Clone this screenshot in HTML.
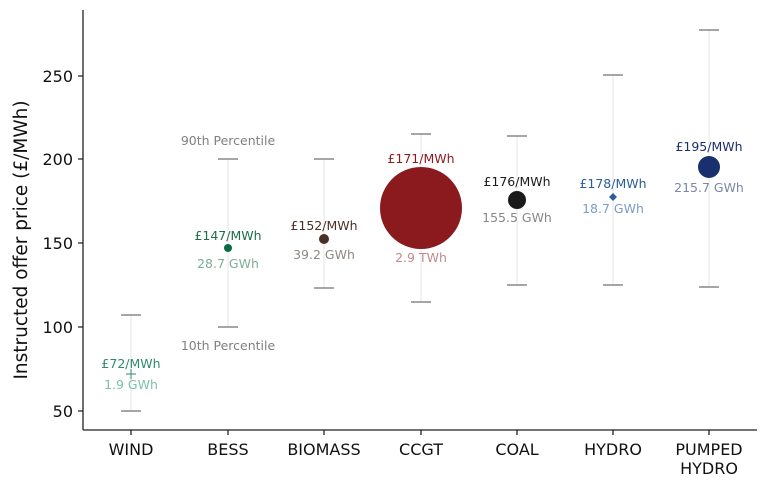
<!DOCTYPE html><html><head><style>body{margin:0;background:#fff}</style></head><body>
<svg width="768" height="489" xmlns="http://www.w3.org/2000/svg" font-family="DejaVu Sans, sans-serif">
<g stroke="#e6e6e6" stroke-width="1">
<line x1="131" y1="315" x2="131" y2="411"/><line x1="228" y1="159" x2="228" y2="327"/><line x1="324" y1="159" x2="324" y2="288"/><line x1="421" y1="134" x2="421" y2="302"/><line x1="517" y1="136" x2="517" y2="285"/><line x1="613" y1="75" x2="613" y2="285"/><line x1="709" y1="30" x2="709" y2="287"/>
</g>
<g stroke="#888" stroke-width="1.6">
<line x1="121" y1="315" x2="141" y2="315"/><line x1="121" y1="411" x2="141" y2="411"/>
<line x1="218" y1="159" x2="238" y2="159"/><line x1="218" y1="327" x2="238" y2="327"/>
<line x1="314" y1="159" x2="334" y2="159"/><line x1="314" y1="288" x2="334" y2="288"/>
<line x1="411" y1="134" x2="431" y2="134"/><line x1="411" y1="302" x2="431" y2="302"/>
<line x1="507" y1="136" x2="527" y2="136"/><line x1="507" y1="285" x2="527" y2="285"/>
<line x1="603" y1="75" x2="623" y2="75"/><line x1="603" y1="285" x2="623" y2="285"/>
<line x1="699" y1="30" x2="719" y2="30"/><line x1="699" y1="287" x2="719" y2="287"/>
</g>
<path d="M126 374h10M131 369v10" stroke="#2e8b6a" stroke-width="1"/>
<circle cx="228" cy="248" r="4" fill="#0b6b45"/>
<circle cx="324" cy="239" r="5" fill="#4a2f25"/>
<circle cx="421" cy="208" r="41" fill="#8b1a1f"/>
<circle cx="517" cy="200" r="9" fill="#1a1a1a"/>
<path d="M613 193l4 4-4 4-4-4z" fill="#2b5d9b"/>
<circle cx="709" cy="167" r="11" fill="#1a2f6e"/>
<g font-size="12.5" text-anchor="middle">
<text x="131" y="368" fill="#2e8b6a">£72/MWh</text><text x="131" y="389" fill="#7cc0a8">1.9 GWh</text>
<text x="228" y="240" fill="#1e6e4a">£147/MWh</text><text x="228" y="268" fill="#7fae98">28.7 GWh</text>
<text x="324" y="230" fill="#4a2f25">£152/MWh</text><text x="324" y="259" fill="#908880">39.2 GWh</text>
<text x="421" y="163" fill="#8b1a1f">£171/MWh</text><text x="421" y="262" fill="#c08a8c">2.9 TWh</text>
<text x="517" y="186" fill="#1a1a1a">£176/MWh</text><text x="517" y="222" fill="#888">155.5 GWh</text>
<text x="613" y="188" fill="#2b5d9b">£178/MWh</text><text x="613" y="213" fill="#7a9cc6">18.7 GWh</text>
<text x="709" y="151" fill="#1a2f6e">£195/MWh</text><text x="709" y="192" fill="#7a86aa">215.7 GWh</text>
<text x="228" y="145" fill="#808080">90th Percentile</text><text x="228" y="350" fill="#808080">10th Percentile</text>
</g>
<g stroke="#222" stroke-width="1.3"><line x1="83" y1="10" x2="83" y2="430"/><line x1="83" y1="430" x2="757" y2="430"/>
<path d="M78 76h5M78 159h5M78 243h5M78 327h5M78 411h5"/>
<path d="M131 430v5M228 430v5M324 430v5M421 430v5M517 430v5M613 430v5M709 430v5"/></g>
<g font-size="16" fill="#111" text-anchor="end"><text x="73" y="82">250</text><text x="73" y="165">200</text><text x="73" y="249">150</text><text x="73" y="333">100</text><text x="73" y="417">50</text></g>
<g font-size="16" fill="#111" text-anchor="middle"><text x="131" y="455">WIND</text><text x="228" y="455">BESS</text><text x="324" y="455">BIOMASS</text><text x="421" y="455">CCGT</text><text x="517" y="455">COAL</text><text x="613" y="455">HYDRO</text><text x="709" y="455">PUMPED</text><text x="709" y="474">HYDRO</text></g>
<text transform="translate(27 240) rotate(-90)" font-size="18.5" fill="#111" text-anchor="middle">Instructed offer price (£/MWh)</text>
</svg></body></html>
